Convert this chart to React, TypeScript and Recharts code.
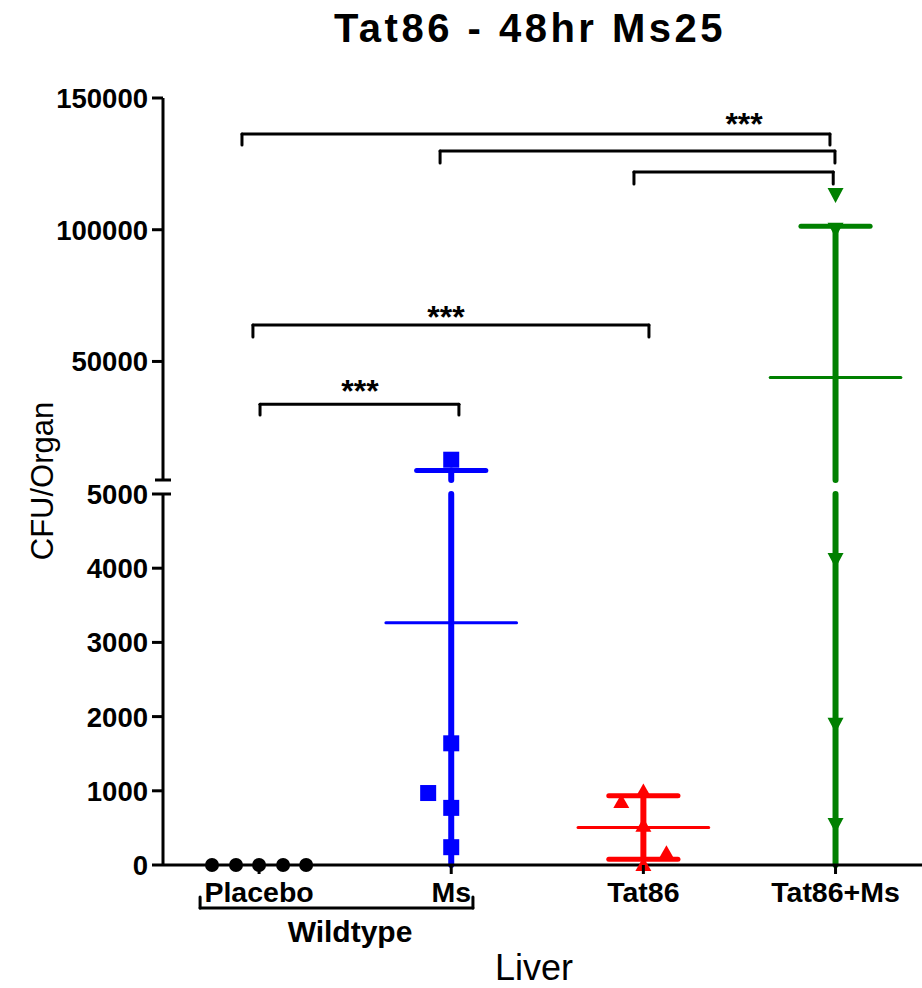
import React from 'react';
import { ComposedChart, Scatter, XAxis, YAxis, ReferenceLine, ReferenceDot } from 'recharts';

const FONT = '"Liberation Sans", Arial, Helvetica, sans-serif';

const groups = ['Placebo', 'Ms', 'Tat86', 'Tat86+Ms'];
const groupX = [1, 2, 3, 4];

// CFU per organ, one value per animal
const placeboCfu = [0, 0, 0, 0, 0];
const msCfu = [12700, 1640, 970, 770, 240];
const tat86Cfu = [850, 990, 530, 160, 0];
const tat86MsCfu = [113200, 100000, 4110, 1890, 540];

// horizontal scatter offsets of the points (category units)
const placeboJitter = [-0.245, -0.12, 0, 0.125, 0.245];
const msJitter = [0, 0, -0.12, 0, 0];
const tat86Jitter = [-0.115, 0, 0, 0.12, 0];
const tat86MsJitter = [0, 0, 0, 0, 0];

// significance brackets: from group position x1 to x2, bar at y, legs down to leg
const bracketX1 = [0.911, 1.942, 2.951, 0.968, 1.005];
const bracketX2 = [3.971, 3.997, 3.988, 3.029, 2.04];
const bracketY = [136300, 129900, 121900, 63800, 33800];
const bracketLeg = [132200, 125300, 117400, 59300, 29700];
const starX = [3.524, 1.973, 1.525];
const starY = [142800, 69500, 41400];

const upperTicks = [5000, 50000, 100000, 150000];
const lowerTicks = [0, 1000, 2000, 3000, 4000, 5000];
const BREAK = 5000;
const X_DOMAIN: [number, number] = [0.5, 4.45];

const series = [
  { name: groups[0], values: placeboCfu, jitter: placeboJitter, color: '#000000', shape: 'circle' },
  { name: groups[1], values: msCfu, jitter: msJitter, color: '#0000ff', shape: 'square' },
  { name: groups[2], values: tat86Cfu, jitter: tat86Jitter, color: '#ff0000', shape: 'triangle' },
  { name: groups[3], values: tat86MsCfu, jitter: tat86MsJitter, color: '#008000', shape: 'down' },
];

const meanSd = (vals: number[]) => {
  const m = vals.reduce((a, b) => a + b, 0) / vals.length;
  const v = vals.reduce((a, b) => a + (b - m) * (b - m), 0) / (vals.length - 1);
  return { mean: m, sd: Math.sqrt(v) };
};

const makeMarker = (shape: string, color: string) => (props: any) => {
  const { cx, cy } = props;
  if (cx == null || cy == null) return <g />;
  switch (shape) {
    case 'circle':
      return <circle cx={cx} cy={cy} r={7} fill={color} />;
    case 'square':
      return <rect x={cx - 8} y={cy - 8} width={16} height={16} fill={color} />;
    case 'triangle':
      return <path d={`M${cx},${cy - 8}L${cx + 8},${cy + 6}L${cx - 8},${cy + 6}Z`} fill={color} />;
    default:
      return <path d={`M${cx - 8},${cy - 7}L${cx + 8},${cy - 7}L${cx},${cy + 8}Z`} fill={color} />;
  }
};

const seg = (key: string, x1: number, y1: number, x2: number, y2: number, color: string, w: number) => (
  <ReferenceLine
    key={key}
    segment={[{ x: x1, y: y1 }, { x: x2, y: y2 }]}
    stroke={color}
    strokeWidth={w}
    strokeLinecap="round"
    ifOverflow="visible"
  />
);

// mean line + SD whiskers, clipped to one segment of the broken axis
const summaryLines = (lo: number, hi: number) => {
  const out: React.ReactNode[] = [];
  series.forEach((s, i) => {
    if (i === 0) return;
    const gx = groupX[i];
    const { mean, sd } = meanSd(s.values);
    const top = mean + sd;
    const bot = Math.max(0, mean - sd);
    const a = Math.max(bot, lo);
    const b = Math.min(top, hi);
    if (b > a) out.push(seg(`v${i}`, gx, a, gx, b, s.color, 6));
    if (top >= lo && top <= hi) out.push(seg(`t${i}`, gx - 0.18, top, gx + 0.18, top, s.color, 5));
    if (mean - sd > 0 && bot >= lo && bot <= hi) out.push(seg(`b${i}`, gx - 0.18, bot, gx + 0.18, bot, s.color, 5));
    if (mean >= lo && mean <= hi) out.push(seg(`m${i}`, gx - 0.34, mean, gx + 0.34, mean, s.color, 3));
  });
  return out;
};

const YTick = (props: any) => {
  const { x, y, payload, upper } = props;
  const v = payload.value;
  if (upper && v === BREAK) {
    return <line x1={x - 8} x2={x + 8} y1={y} y2={y} stroke="#000" strokeWidth={3} />;
  }
  return (
    <g>
      <line x1={x - 11} x2={!upper && v === BREAK ? x + 8 : x} y1={y} y2={y} stroke="#000" strokeWidth={3} />
      <text x={x - 15} y={y + 10} textAnchor="end" fontFamily={FONT} fontWeight="bold" fontSize={27.5} fill="#000">
        {v}
      </text>
    </g>
  );
};

const XTick = (props: any) => {
  const { x, y, payload } = props;
  const idx = groupX.indexOf(payload.value);
  return (
    <g>
      <line x1={x} x2={x} y1={y} y2={y + 9} stroke="#000" strokeWidth={3} />
      <text x={x} y={y + 37} textAnchor="middle" fontFamily={FONT} fontWeight="bold" fontSize={28.5} fill="#000">
        {groups[idx]}
      </text>
    </g>
  );
};

const StarText = (props: any) => (
  <text x={props.cx} y={props.cy + 18} textAnchor="middle" fontFamily={FONT} fontWeight="bold" fontSize={32} fill="#000">
    ***
  </text>
);

const toPoints = (i: number, keep: (v: number) => boolean) =>
  series[i].values
    .map((v, k) => ({ x: groupX[i] + series[i].jitter[k], y: v }))
    .filter((p) => keep(p.y));

const UpperPanel = () => (
  <ComposedChart width={922} height={485} margin={{ top: 98, right: 0, bottom: 5, left: 0 }}>
    <XAxis type="number" dataKey="x" domain={X_DOMAIN} hide allowDataOverflow />
    <YAxis
      type="number"
      dataKey="y"
      domain={[BREAK, 150000]}
      ticks={upperTicks}
      interval={0}
      width={163}
      tickSize={0}
      tickMargin={0}
      axisLine={{ stroke: '#000', strokeWidth: 3 }}
      tick={(p: any) => <YTick {...p} upper />}
    />
    {summaryLines(BREAK, 150000)}
    {series.map((s, i) => (
      <Scatter
        key={s.name}
        name={s.name}
        data={toPoints(i, (v) => v > BREAK)}
        shape={makeMarker(s.shape, s.color)}
        isAnimationActive={false}
      />
    ))}
    {bracketY.map((y, i) => [
      seg(`bh${i}`, bracketX1[i], y, bracketX2[i], y, '#000', 3),
      seg(`bl${i}`, bracketX1[i], y, bracketX1[i], bracketLeg[i], '#000', 3),
      seg(`br${i}`, bracketX2[i], y, bracketX2[i], bracketLeg[i], '#000', 3),
    ])}
    {starX.map((x, i) => (
      <ReferenceDot key={`s${i}`} x={x} y={starY[i]} r={0} ifOverflow="visible" shape={StarText} />
    ))}
  </ComposedChart>
);

const LowerPanel = () => (
  <ComposedChart width={922} height={988} margin={{ top: 494, right: 0, bottom: 0, left: 0 }}>
    <XAxis
      type="number"
      dataKey="x"
      domain={X_DOMAIN}
      ticks={groupX}
      interval={0}
      height={123}
      tickSize={0}
      tickMargin={0}
      axisLine={{ stroke: '#000', strokeWidth: 3 }}
      tick={XTick}
    />
    <YAxis
      type="number"
      dataKey="y"
      domain={[0, BREAK]}
      ticks={lowerTicks}
      interval={0}
      width={163}
      tickSize={0}
      tickMargin={0}
      axisLine={{ stroke: '#000', strokeWidth: 3 }}
      tick={(p: any) => <YTick {...p} />}
    />
    {summaryLines(0, BREAK)}
    {series.map((s, i) => (
      <Scatter
        key={s.name}
        name={s.name}
        data={toPoints(i, (v) => v <= BREAK)}
        shape={makeMarker(s.shape, s.color)}
        isAnimationActive={false}
      />
    ))}
    {/* Wildtype grouping bracket under Placebo and Ms */}
    {seg('wh', 0.693, -580, 2.113, -580, '#000', 3)}
    {seg('wl', 0.693, -580, 0.693, -431, '#000', 3)}
    {seg('wr', 2.113, -580, 2.113, -431, '#000', 3)}
  </ComposedChart>
);

export default function App() {
  return (
    <div style={{ position: 'absolute', left: 0, top: 0, width: 922, height: 988, background: '#fff' }}>
      <div style={{ position: 'absolute', left: 0, top: 0 }}>
        <LowerPanel />
      </div>
      <div style={{ position: 'absolute', left: 0, top: 0 }}>
        <UpperPanel />
      </div>
      <svg
        width={922}
        height={988}
        style={{ position: 'absolute', left: 0, top: 0, pointerEvents: 'none' }}
      >
        <text x={530} y={42} textAnchor="middle" fontFamily={FONT} fontWeight="bold" fontSize={40} letterSpacing={3.5}>
          Tat86 - 48hr Ms25
        </text>
        <text
          x={53}
          y={481}
          transform="rotate(-90 53 481)"
          textAnchor="middle"
          fontFamily={FONT}
          fontSize={31}
        >
          CFU/Organ
        </text>
        <text x={350} y={942} textAnchor="middle" fontFamily={FONT} fontWeight="bold" fontSize={30}>
          Wildtype
        </text>
        <text x={534} y={980} textAnchor="middle" fontFamily={FONT} fontSize={36}>
          Liver
        </text>
      </svg>
    </div>
  );
}
